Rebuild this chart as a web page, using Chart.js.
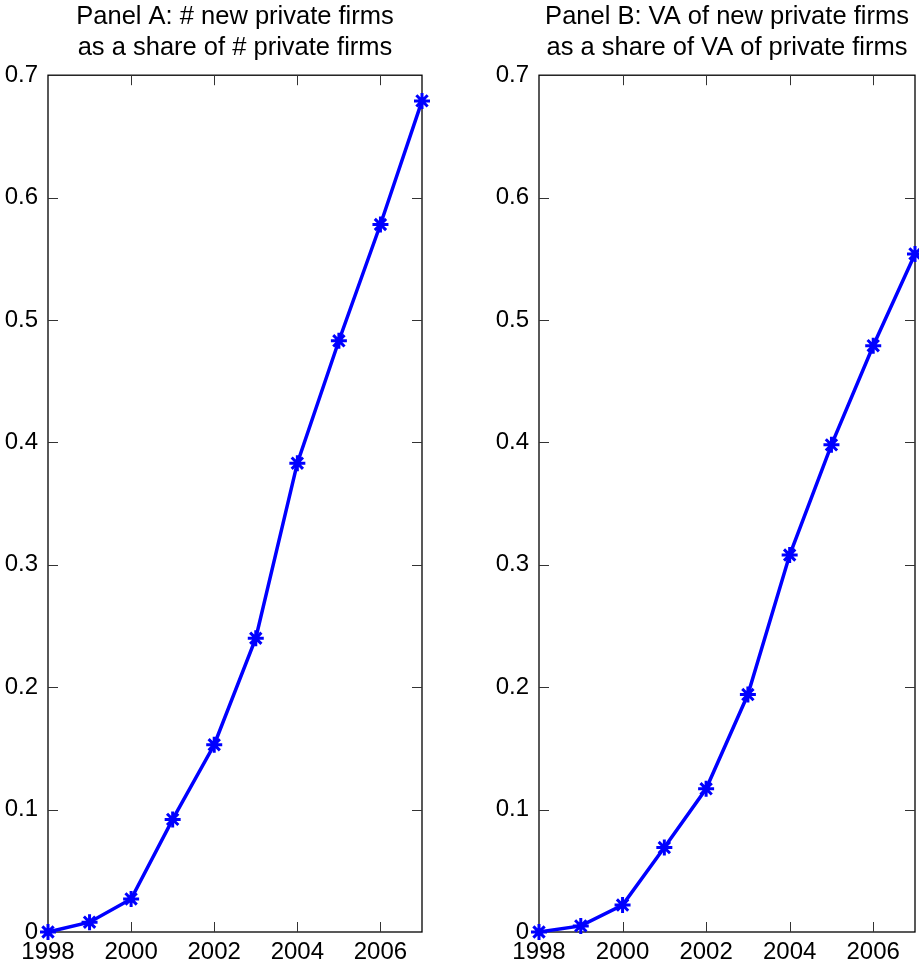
<!DOCTYPE html>
<html lang="en">
  <head>
    <meta charset="utf-8">
    <title>New private firms</title>
    <script src="https://cdn.jsdelivr.net/npm/chart.js"></script>
    <style>
      body { margin: 0; background: #fff; overflow: hidden; }
      canvas { position: absolute; top: 0; }
      #panelA { left: 0; }
      #panelB { left: 460px; }
    </style>
  </head>
  <body>
    <canvas id="panelA" width="460" height="969"></canvas>
    <canvas id="panelB" width="480" height="969"></canvas>
    <script>
      var years = [1998, 1999, 2000, 2001, 2002, 2003, 2004, 2005, 2006, 2007];
      // Panel A: # new private firms / # private firms
      var countShare = [0, 0.008, 0.027, 0.092, 0.153, 0.240, 0.383, 0.483, 0.578, 0.679];
      // Panel B: VA of new private firms / VA of private firms
      var vaShare = [0, 0.005, 0.022, 0.069, 0.117, 0.194, 0.308, 0.398, 0.479, 0.554];
      var titleA = ["Panel A: # new private firms", "as a share of # private firms"];
      var titleB = ["Panel B: VA of new private firms", "as a share of VA of private firms"];

      var FONT = "'Liberation Sans', Arial, Helvetica, sans-serif";

      // matlab-like box with inward ticks
      var boxPlugin = {
        id: "box",
        beforeDatasetsDraw: function (chart) {
          var ctx = chart.ctx, a = chart.chartArea;
          var xs = chart.scales.x, ys = chart.scales.y;
          var len = 10;
          ctx.save();
          ctx.strokeStyle = "#000";
          ctx.lineWidth = 1.3;
          ctx.strokeRect(a.left, a.top, a.right - a.left, a.bottom - a.top);
          ctx.beginPath();
          xs.ticks.forEach(function (t) {
            var px = Math.round(xs.getPixelForValue(t.value)) + 0.5;
            if (px <= a.left + 1 || px >= a.right - 1) return;
            ctx.moveTo(px, a.bottom); ctx.lineTo(px, a.bottom - len);
            ctx.moveTo(px, a.top); ctx.lineTo(px, a.top + len);
          });
          ys.ticks.forEach(function (t) {
            var py = Math.round(ys.getPixelForValue(t.value)) + 0.5;
            if (py <= a.top + 1 || py >= a.bottom - 1) return;
            ctx.moveTo(a.left, py); ctx.lineTo(a.left + len, py);
            ctx.moveTo(a.right, py); ctx.lineTo(a.right - len, py);
          });
          ctx.lineWidth = 1;
          ctx.strokeStyle = "#333";
          ctx.stroke();
          ctx.restore();
        }
      };

      function makePanel(id, values, title, yWidth, rightPad) {
        return new Chart(id, {
          type: "line",
          data: {
            labels: years,
            datasets: [{
              data: years.map(function (y, i) { return { x: y, y: values[i] }; }),
              borderColor: "#0000ff",
              backgroundColor: "#0000ff",
              borderWidth: 3.5,
              pointStyle: "star",
              pointRadius: 8,
              pointBorderWidth: 3,
              tension: 0,
              clip: false
            }]
          },
          options: {
            responsive: false,
            animation: false,
            layout: { padding: { left: 0, right: rightPad, top: 0, bottom: 0 } },
            plugins: {
              legend: { display: false },
              tooltip: { enabled: false },
              title: {
                display: true,
                text: title,
                color: "#000",
                fullSize: false,
                font: { family: FONT, size: 25.5, weight: "normal", lineHeight: 1.2 },
                padding: { top: 2, bottom: 12 }
              }
            },
            scales: {
              x: {
                type: "linear",
                min: 1998,
                max: 2007,
                border: { display: false },
                grid: { display: false, drawTicks: false },
                ticks: {
                  stepSize: 2,
                  includeBounds: false,
                  autoSkip: false,
                  maxRotation: 0,
                  padding: 6,
                  color: "#000",
                  font: { family: FONT, size: 24 },
                  callback: function (v) { return String(v); }
                },
                afterFit: function (s) { s.height = 37; }
              },
              y: {
                min: 0,
                max: 0.7,
                border: { display: false },
                grid: { display: false, drawTicks: false },
                ticks: {
                  stepSize: 0.1,
                  padding: 10,
                  color: "#000",
                  font: { family: FONT, size: 24 },
                  callback: function (v) { return v === 0 ? "0" : v.toFixed(1); }
                },
                afterFit: function (s) { s.width = yWidth; }
              }
            }
          },
          plugins: [boxPlugin]
        });
      }

      makePanel("panelA", countShare, titleA, 48, 38);
      makePanel("panelB", vaShare, titleB, 79, 25);
    </script>
  </body>
</html>
